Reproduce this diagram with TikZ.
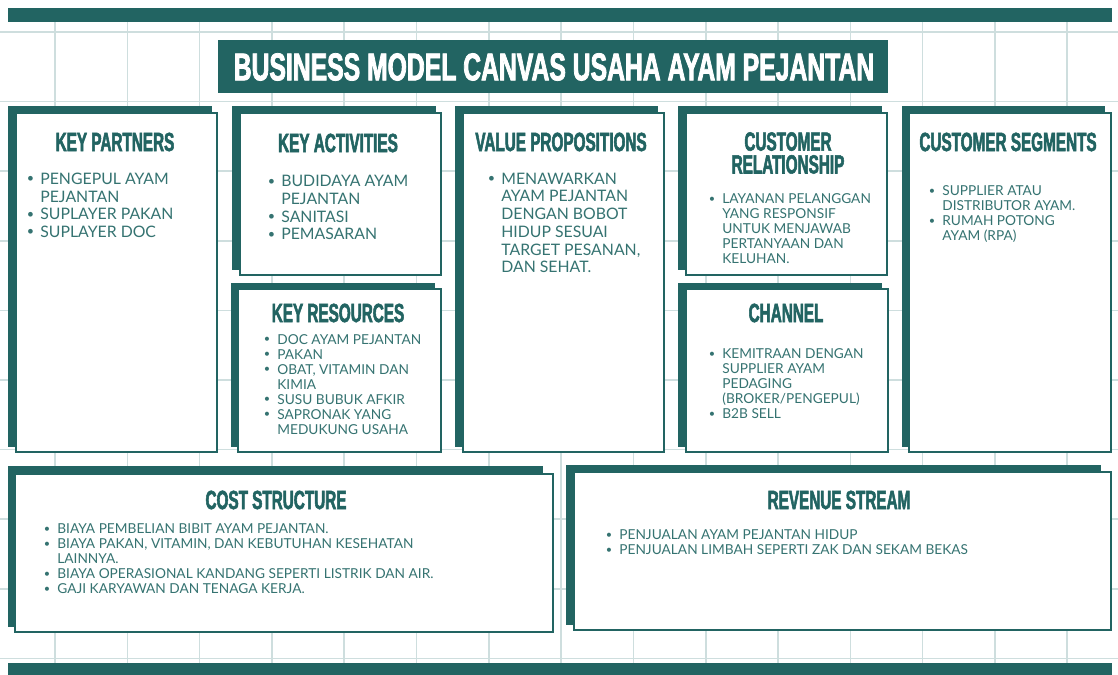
\documentclass[tikz,border=0pt]{standalone}
\usepackage{fontspec}
\setmainfont{Lato}
\newfontfamily\headfont{Liberation Sans}[FakeStretch=0.58, FakeBold=2]
\newfontfamily\titlefont{Liberation Sans}[FakeStretch=0.64, FakeBold=2]
\definecolor{teal}{HTML}{226462}
\definecolor{bodyc}{HTML}{357371}
\definecolor{gridc}{RGB}{206,222,222}
\newcommand{\bul}{\makebox[0.2cm][l]{\hspace{-2pt}\raisebox{0.2ex}{\scalebox{0.8}{\textbullet}}}}
\newcommand{\nob}{\hspace*{0.2cm}}

\begin{document}
\begin{tikzpicture}[x=0.02cm, y=-0.02cm,
        back/.style={fill=teal},
        card/.style={draw=teal, fill=white, line width=1.1pt},
        gridln/.style={draw=gridc, line width=0.9pt},
        title/.style={font=\titlefont\bfseries\fontsize{22}{24}\selectfont, text=white, inner sep=0},
        head/.style={font=\headfont\bfseries\fontsize{15}{13}\selectfont, text=teal, align=center, inner sep=0},
        body/.style={font=\fontsize{9}{10.1}\selectfont, text=bodyc, align=left, anchor=north west, inner sep=0},
        bodys/.style={body, font=\fontsize{7.8}{8.54}\selectfont}
    ]
        \useasboundingbox[fill=white] (0,0) rectangle (1118,675);

        % background grid
        \foreach \i in {0,...,14}
            \draw[gridln] (55+72.3*\i, 22) -- (55+72.3*\i, 675);
        \foreach \j in {0,...,9}
            \draw[gridln] (0, 32+69.6*\j) -- (1118, 32+69.6*\j);

        % top and bottom bars
        \fill[back] (8,8) rectangle (1112,22);
        \fill[back] (8,663) rectangle (1112,675);

        % title
        \fill[back] (218,40) rectangle (888,93);
        \node[title] (ttl) at (554,67) {BUSINESS MODEL CANVAS USAHA AYAM PEJANTAN};

        % key partners
        \fill[back] (8,106) rectangle (212,447);
        \draw[card] (16,113) rectangle (217,452);
        \node[head] (kph) at (115,142) {KEY PARTNERS};
        \node[body] (kpt) at (30,172.5) {\bul PENGEPUL AYAM\\\nob PEJANTAN\\\bul SUPLAYER PAKAN\\\bul SUPLAYER DOC};

        % key activities
        \fill[back] (232,106) rectangle (436,270);
        \draw[card] (240,113) rectangle (441,275);
        \node[head] (kah) at (338,143) {KEY ACTIVITIES};
        \node[body] (kat) at (271,175) {\bul BUDIDAYA AYAM\\\nob PEJANTAN\\\bul SANITASI\\\bul PEMASARAN};

        % key resources
        \fill[back] (231,283) rectangle (435,447);
        \draw[card] (238,289) rectangle (441,452);
        \node[head] (krh) at (338,313) {KEY RESOURCES};
        \node[bodys] (krt) at (267,334) {\bul DOC AYAM PEJANTAN\\\bul PAKAN\\\bul OBAT, VITAMIN DAN\\\nob KIMIA\\\bul SUSU BUBUK AFKIR\\\bul SAPRONAK YANG\\\nob MEDUKUNG USAHA};

        % value propositions
        \fill[back] (455,106) rectangle (658,447);
        \draw[card] (463,113) rectangle (664,452);
        \node[head] (vph) at (561,142) {VALUE PROPOSITIONS};
        \node[body] (vpt) at (491,172.5) {\bul MENAWARKAN\\\nob AYAM PEJANTAN\\\nob DENGAN BOBOT\\\nob HIDUP SESUAI\\\nob TARGET PESANAN,\\\nob DAN SEHAT.};

        % customer relationship
        \fill[back] (678,106) rectangle (882,270);
        \draw[card] (686,113) rectangle (887,275);
        \node[head] (crh) at (788,153) {CUSTOMER\\RELATIONSHIP};
        \node[bodys] (crt) at (712,193.5) {\bul LAYANAN PELANGGAN\\\nob YANG RESPONSIF\\\nob UNTUK MENJAWAB\\\nob PERTANYAAN DAN\\\nob KELUHAN.};

        % channel
        \fill[back] (678,283) rectangle (882,447);
        \draw[card] (686,289) rectangle (888,452);
        \node[head] (chh) at (786,313) {CHANNEL};
        \node[bodys] (cht) at (712,348.5) {\bul KEMITRAAN DENGAN\\\nob SUPPLIER AYAM\\\nob PEDAGING\\\nob (BROKER/PENGEPUL)\\\bul B2B SELL};

        % customer segments
        \fill[back] (902,106) rectangle (1105,447);
        \draw[card] (909,113) rectangle (1111,452);
        \node[head] (csh) at (1008,142) {CUSTOMER SEGMENTS};
        \node[bodys] (cst) at (932,185.5) {\bul SUPPLIER ATAU\\\nob DISTRIBUTOR AYAM.\\\bul RUMAH POTONG\\\nob AYAM (RPA)};

        % cost structure
        \fill[back] (8,466) rectangle (543,627);
        \draw[card] (15,474) rectangle (553,632);
        \node[head] (coh) at (276,500) {COST STRUCTURE};
        \node[bodys] (cot) at (47,523.5) {\bul BIAYA PEMBELIAN BIBIT AYAM PEJANTAN.\\\bul BIAYA PAKAN, VITAMIN, DAN KEBUTUHAN KESEHATAN\\\nob LAINNYA.\\\bul BIAYA OPERASIONAL KANDANG SEPERTI LISTRIK DAN AIR.\\\bul GAJI KARYAWAN DAN TENAGA KERJA.};

        % revenue stream
        \fill[back] (566,465) rectangle (1101,625);
        \draw[card] (574,472) rectangle (1111,630);
        \node[head] (rsh) at (839,500) {REVENUE STREAM};
        \node[bodys] (rst) at (609,529.5) {\bul PENJUALAN AYAM PEJANTAN HIDUP\\\bul PENJUALAN LIMBAH SEPERTI ZAK DAN SEKAM BEKAS};
    \end{tikzpicture}
\end{document}
